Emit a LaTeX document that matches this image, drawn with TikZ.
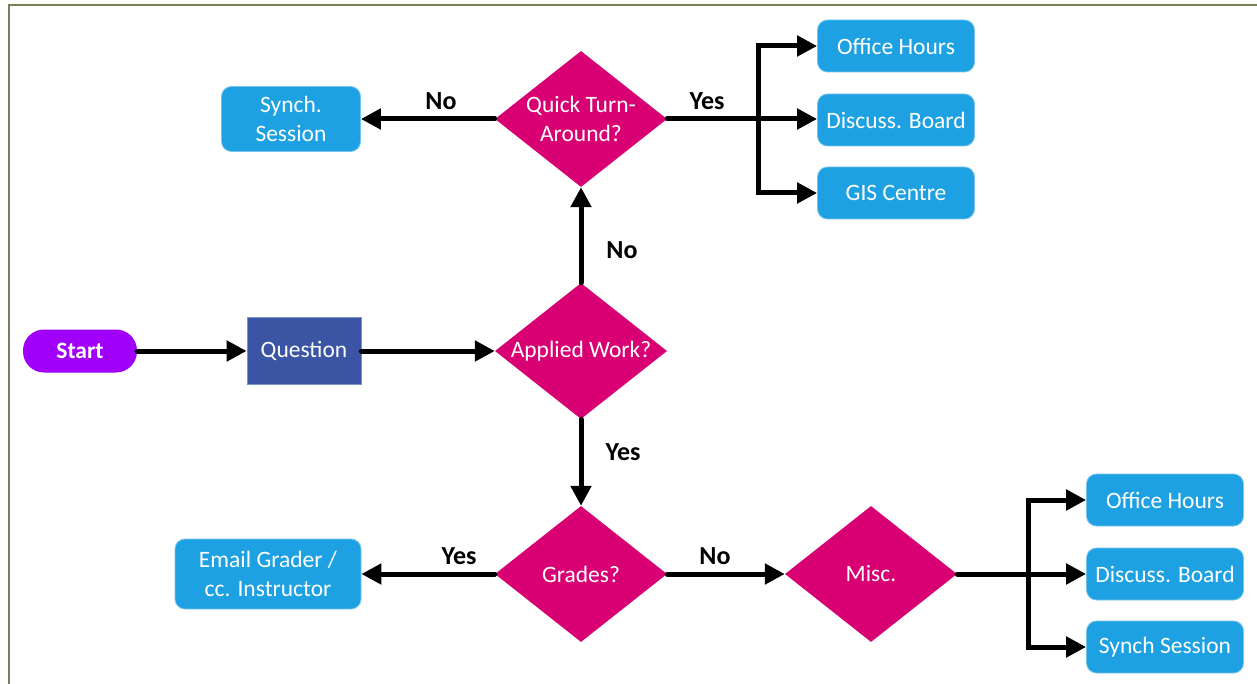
\documentclass[tikz,border=0pt]{standalone}
\usepackage{fontspec}
\setmainfont{Carlito}
\usetikzlibrary{shapes.geometric,arrows.meta}
\definecolor{framec}{RGB}{118,128,86}
\definecolor{boxblue}{RGB}{29,161,226}
\definecolor{boxedge}{RGB}{120,195,235}
\definecolor{dmag}{RGB}{216,0,115}
\definecolor{qblue}{RGB}{59,84,164}
\definecolor{qedge}{RGB}{120,145,205}
\definecolor{startc}{RGB}{160,0,250}
\tikzset{
  txt/.style={font=\fontsize{23.5}{29}\selectfont},
  bluebox/.style={txt, rectangle, rounded corners=10pt, fill=boxblue, draw=boxedge, line width=0.8pt, text=white, align=center, inner sep=0pt},
  dia/.style={diamond, fill=dmag, inner sep=0pt, minimum width=172pt, minimum height=136pt},
  dtext/.style={txt, text=white, align=center},
  arr/.style={line width=5pt, line cap=round, -{Triangle[length=20pt,width=20pt]}},
  seg/.style={line width=5pt, line cap=round},
  lbl/.style={font=\fontsize{26}{30}\selectfont\bfseries}
}
\begin{document}
\begin{tikzpicture}[x=1pt,y=-1pt]
\useasboundingbox (0,0) rectangle (1257,684);
\fill[white] (0,0) rectangle (1257,684);
\draw[framec, line width=2.6pt] (9,700) -- (9,5) -- (1270,5);

% nodes
\node[txt, font=\fontsize{23.5}{29}\selectfont\bfseries, rounded corners=21pt, fill=startc, text=white, minimum width=114pt, minimum height=43pt, inner sep=0pt] (start) at (80,351) {Start};
\node[txt, fill=qblue, draw=qedge, line width=0.8pt, text=white, minimum width=114pt, minimum height=67pt, inner sep=0pt] (q) at (304,351) {Question};

\node[dia, label={[dtext]center:Applied Work?}] (aw) at (581,351) {};
\node[dia, label={[dtext]center:Quick Turn-\\Around?}] (qt) at (581,119) {};
\node[dia, label={[dtext]center:Grades?}] (gr) at (581,574) {};
\node[dia, label={[dtext]center:Misc.}] (misc) at (871,574) {};

\node[bluebox, minimum width=139pt, minimum height=65pt] (ss) at (291,119) {Synch.\\Session};
\node[bluebox, minimum width=186pt, minimum height=70pt] (em) at (268,574) {Email Grader /\\cc. Instructor};

\node[bluebox, minimum width=157pt, minimum height=52pt] (oh1) at (896,46) {Office Hours};
\node[bluebox, minimum width=157pt, minimum height=52pt] (db1) at (896,120) {Discuss. Board};
\node[bluebox, minimum width=157pt, minimum height=52pt] (gis) at (896,193) {GIS Centre};

\node[bluebox, minimum width=157pt, minimum height=52pt] (oh2) at (1165,500) {Office Hours};
\node[bluebox, minimum width=157pt, minimum height=52pt] (db2) at (1165,574) {Discuss. Board};
\node[bluebox, minimum width=157pt, minimum height=52pt] (syn) at (1165,647) {Synch Session};

\coordinate (b1) at (758,119);
\coordinate (b2) at (1028,574);

% connectors
\draw[arr] (start.east) -- (q.west);
\draw[arr] (q.east) -- (aw.west);
\draw[arr] (aw.north) -- (qt.south);
\draw[arr] (aw.south) -- (gr.north);
\draw[arr] (qt.west) -- (ss.east);
\draw[arr] (gr.west) -- (em.east);
\draw[arr] (gr.east) -- (misc.west);

\draw[seg] (qt.east) -- (b1);
\draw[arr] (b1) |- (oh1.west);
\draw[arr] (b1) -- (b1 -| db1.west);
\draw[arr] (b1) |- (gis.west);

\draw[seg] (misc.east) -- (b2);
\draw[arr] (b2) |- (oh2.west);
\draw[arr] (b2) -- (db2.west);
\draw[arr] (b2) |- (syn.west);

% labels
\node[lbl] (l1) at (441,101) {No};
\node[lbl] (l2) at (707,101) {Yes};
\node[lbl] (l3) at (622,250) {No};
\node[lbl] (l4) at (623,452) {Yes};
\node[lbl] (l5) at (459,556) {Yes};
\node[lbl] (l6) at (715,556) {No};
\end{tikzpicture}
\end{document}
